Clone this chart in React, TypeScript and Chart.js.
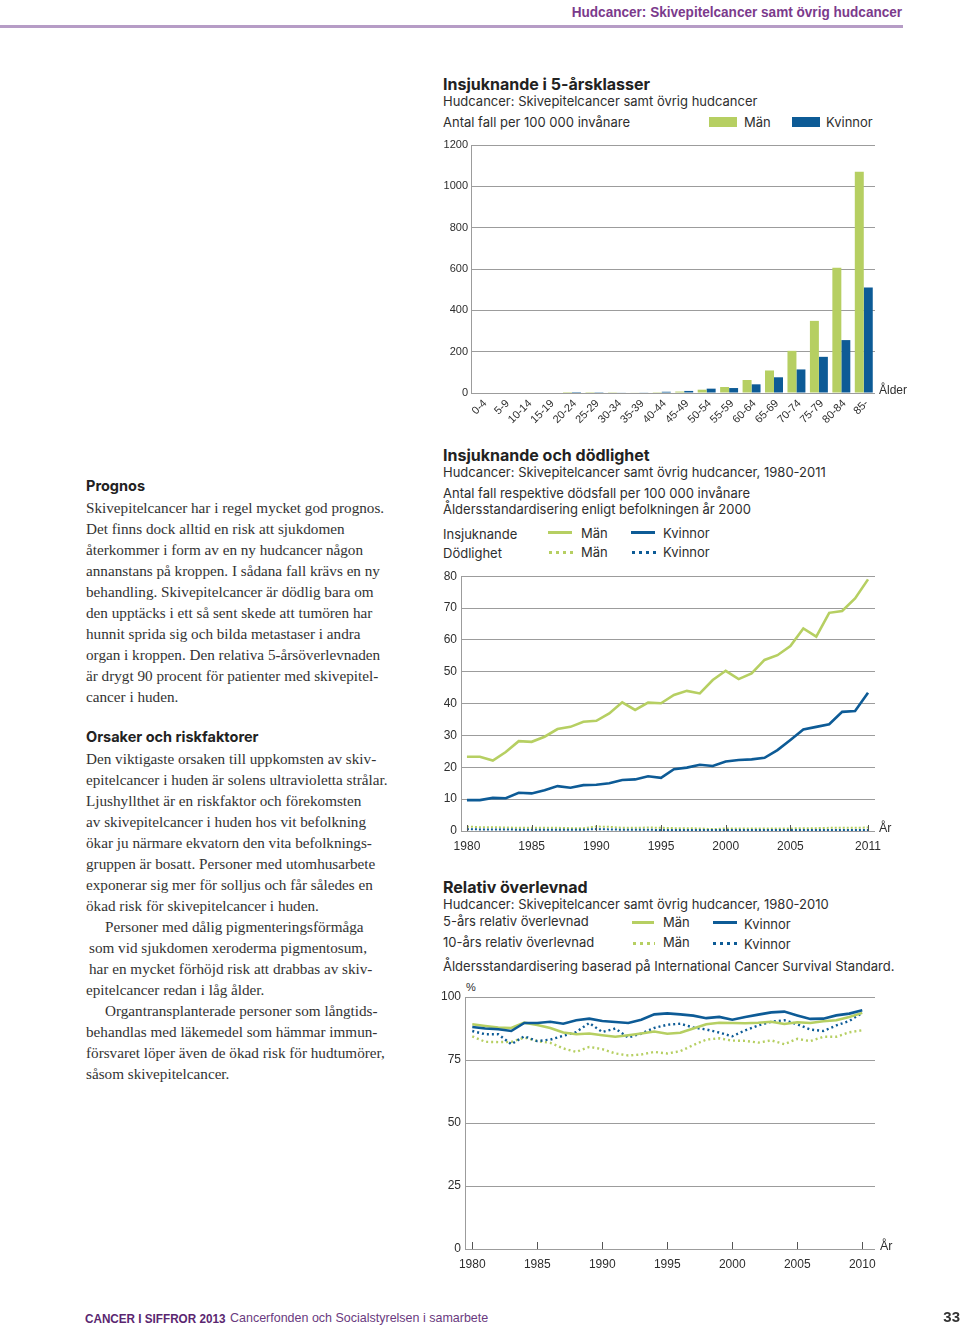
import React, { useEffect, useRef } from "react";
import { Chart, registerables } from "chart.js";

Chart.register(...registerables);

// ---------- DATA ----------
const ageGroups = ["0-4", "5-9", "10-14", "15-19", "20-24", "25-29", "30-34", "35-39", "40-44", "45-49", "50-54", "55-59", "60-64", "65-69", "70-74", "75-79", "80-84", "85-"];
const menByAge = [0, 0, 0, 0, 0.3, 0.6, 1, 2, 4, 7, 16, 29, 63, 109, 204, 349, 606, 1070];
const womenByAge = [0, 0, 0, 0, 0.3, 1, 2, 3, 6, 10, 21, 24, 42, 76, 114, 175, 256, 511];

const trendYears = [1980, 1981, 1982, 1983, 1984, 1985, 1986, 1987, 1988, 1989, 1990, 1991, 1992, 1993, 1994, 1995, 1996, 1997, 1998, 1999, 2000, 2001, 2002, 2003, 2004, 2005, 2006, 2007, 2008, 2009, 2010, 2011];
const incidenceMen = [23.3, 23.3, 22.1, 24.8, 28.2, 28.0, 29.6, 32.0, 32.7, 34.3, 34.6, 36.9, 40.4, 38.0, 40.3, 40.1, 42.7, 44.0, 43.2, 47.4, 50.3, 47.7, 49.5, 53.7, 55.2, 58.1, 63.6, 61.0, 68.5, 69.1, 73.0, 79.0];
const incidenceWomen = [9.7, 9.7, 10.4, 10.3, 12.0, 11.8, 12.8, 14.1, 13.6, 14.4, 14.5, 15.0, 16.0, 16.2, 17.2, 16.7, 19.4, 19.9, 20.8, 20.4, 21.8, 22.3, 22.5, 23.0, 25.4, 28.6, 31.9, 32.7, 33.5, 37.4, 37.7, 43.4];
const mortalityMen = [1.4, 1.2, 1.2, 1.1, 1.0, 1.0, 1.0, 1.0, 0.9, 0.9, 1.4, 1.3, 1.0, 1.0, 1.1, 1.0, 0.9, 0.9, 0.8, 0.6, 0.8, 0.8, 0.8, 0.8, 0.8, 0.8, 0.9, 0.9, 1.0, 1.0, 1.0, 1.1];
const mortalityWomen = [0.6, 0.5, 0.5, 0.5, 0.4, 0.4, 0.4, 0.4, 0.4, 0.4, 0.6, 0.5, 0.4, 0.4, 0.4, 0.3, 0.3, 0.3, 0.3, 0.3, 0.3, 0.3, 0.3, 0.3, 0.3, 0.3, 0.3, 0.3, 0.3, 0.3, 0.3, 0.3];
const trendTicks = [1980, 1985, 1990, 1995, 2000, 2005, 2011];

const survivalYears = [1980, 1981, 1982, 1983, 1984, 1985, 1986, 1987, 1988, 1989, 1990, 1991, 1992, 1993, 1994, 1995, 1996, 1997, 1998, 1999, 2000, 2001, 2002, 2003, 2004, 2005, 2006, 2007, 2008, 2009, 2010];
const surv5Women = [88.1, 87.5, 87.2, 86.5, 89.7, 89.7, 90.2, 89.4, 90.8, 91.4, 90.5, 90.1, 89.7, 91.0, 93.1, 93.5, 93.1, 92.6, 91.6, 92.1, 91.0, 92.1, 93.0, 93.9, 94.2, 92.7, 91.3, 91.4, 92.7, 93.4, 94.7];
const surv5Men = [89.2, 88.5, 87.9, 87.7, 89.8, 88.9, 87.7, 85.9, 85.2, 85.5, 84.8, 84.2, 84.8, 85.5, 86.3, 85.4, 85.8, 87.5, 89.2, 89.8, 89.7, 89.6, 89.8, 90.2, 89.3, 90.0, 89.7, 90.4, 90.8, 92.1, 93.7];
const surv10Women = [86.5, 85.2, 85.2, 81.3, 84.4, 82.5, 83.1, 84.6, 86.1, 89.7, 86.1, 87.5, 83.9, 85.5, 87.7, 89.0, 89.4, 87.9, 87.1, 85.9, 84.4, 86.8, 88.7, 90.2, 90.8, 89.2, 87.1, 86.5, 88.7, 90.5, 93.7];
const surv10Men = [84.4, 82.2, 82.1, 82.2, 83.9, 82.5, 81.8, 79.6, 78.2, 80.2, 79.3, 77.6, 76.8, 77.2, 78.2, 77.6, 78.5, 80.9, 83.1, 83.6, 82.7, 82.6, 81.9, 82.8, 81.3, 83.4, 82.5, 84.2, 84.2, 86.0, 86.8];
const survivalTicks = [1980, 1985, 1990, 1995, 2000, 2005, 2010];

// ---------- STYLE ----------
const GREEN = "#b6cf62";
const BLUE = "#0d5b96";
const GRID = "#9c9c9c";
const AXIS_FONT = "'Liberation Sans', Arial, sans-serif";
const SANS = "Inter, 'Noto Sans', sans-serif";
const SERIF = "'Liberation Serif', 'Times New Roman', serif";
const NARROW = "'Liberation Sans Narrow', 'Liberation Sans', sans-serif";
const PURPLE = "#7b3a8c";
const TEXT = "#2e2e2e";

const innerTicks = {
  id: "innerTicks",
  afterDraw(chart: any, _args: any, opts: any) {
    if (!opts || !opts.enabled) return;
    const xs = chart.scales.x;
    const ctx = chart.ctx;
    const bottom = chart.chartArea.bottom;
    ctx.save();
    ctx.strokeStyle = opts.color;
    ctx.lineWidth = 1;
    xs.ticks.forEach((t: any) => {
      const px = Math.round(xs.getPixelForValue(t.value)) + 0.5;
      ctx.beginPath();
      ctx.moveTo(px, bottom);
      ctx.lineTo(px, bottom - opts.length);
      ctx.stroke();
    });
    ctx.restore();
  },
};

function pts(xs: number[], ys: number[]) {
  return xs.map((x, i) => ({ x, y: ys[i] }));
}

function ChartBox({ left, top, width, height, make }: any) {
  const ref = useRef<HTMLCanvasElement>(null);
  useEffect(() => {
    const chart = new Chart(ref.current as HTMLCanvasElement, make());
    return () => chart.destroy();
  }, []);
  return (
    <div style={{ position: "absolute", left, top, width, height }}>
      <canvas ref={ref} width={width} height={height} style={{ width, height, display: "block" }} />
    </div>
  );
}

function T({ x, y, size = 13, weight = 400, family = SANS, color = TEXT, align = "left", sx = 1, children, style }: any) {
  const lh = Math.round(size * 1.3);
  const s: any = {
    position: "absolute",
    top: y - lh / 2,
    lineHeight: lh + "px",
    fontSize: size,
    fontWeight: weight,
    fontFamily: family,
    color,
    whiteSpace: "pre",
  };
  if (align === "right") s.right = 960 - x;
  else s.left = x;
  if (sx !== 1) {
    s.transform = `scaleX(${sx})`;
    s.transformOrigin = align === "right" ? "right center" : "left center";
  }
  return <div style={{ ...s, ...style }}>{children}</div>;
}

function Solid({ x, y, w, color }: any) {
  return <div style={{ position: "absolute", left: x, top: y - 1.5, width: w, height: 3, background: color }} />;
}
function Dotted({ x, y, w, color }: any) {
  return (
    <div
      style={{
        position: "absolute",
        left: x,
        top: y - 1.5,
        width: w,
        height: 3,
        background: `repeating-linear-gradient(to right, ${color} 0 3px, transparent 3px 7px)`,
      }}
    />
  );
}
function Box({ x, y, w, h, color }: any) {
  return <div style={{ position: "absolute", left: x, top: y, width: w, height: h, background: color }} />;
}

const tickFont = (size: number) => ({ family: AXIS_FONT, size });

function makeBarChart() {
  return {
    type: "bar",
    data: {
      labels: ageGroups,
      datasets: [
        { label: "Män", data: menByAge, backgroundColor: GREEN, categoryPercentage: 0.8, barPercentage: 1.0 },
        { label: "Kvinnor", data: womenByAge, backgroundColor: BLUE, categoryPercentage: 0.8, barPercentage: 1.0 },
      ],
    },
    options: {
      responsive: false,
      animation: false,
      layout: { padding: { top: 10, right: 40, left: 0, bottom: 0 } },
      plugins: { legend: { display: false }, tooltip: { enabled: false } },
      scales: {
        x: {
          grid: { display: false },
          border: { display: false },
          ticks: { minRotation: 45, maxRotation: 45, autoSkip: false, font: tickFont(11), color: TEXT, padding: -4, labelOffset: 3 },
          afterFit: (s: any) => { s.height = 42; },
        },
        y: {
          min: 0,
          max: 1200,
          grid: { color: GRID, drawTicks: false },
          border: { display: true, color: GRID },
          ticks: { stepSize: 200, font: tickFont(11), color: TEXT, padding: 3, callback: (v: any) => String(v) },
          afterFit: (s: any) => { s.width = 36; },
        },
      },
    },
  };
}

function makeTrendChart() {
  return {
    type: "line",
    data: {
      datasets: [
        { label: "Kvinnor dödlighet", data: pts(trendYears, mortalityWomen), borderColor: BLUE, borderWidth: 2, borderDash: [2, 2], pointRadius: 0, tension: 0 },
        { label: "Män dödlighet", data: pts(trendYears, mortalityMen), borderColor: GREEN, borderWidth: 2, borderDash: [2, 2], pointRadius: 0, tension: 0 },
        { label: "Kvinnor", data: pts(trendYears, incidenceWomen), borderColor: BLUE, borderWidth: 2.6, pointRadius: 0, tension: 0 },
        { label: "Män", data: pts(trendYears, incidenceMen), borderColor: GREEN, borderWidth: 2.6, pointRadius: 0, tension: 0 },
      ],
    },
    options: {
      responsive: false,
      animation: false,
      layout: { padding: { top: 10, right: 40, left: 0, bottom: 0 } },
      plugins: { legend: { display: false }, tooltip: { enabled: false }, innerTicks: { enabled: true, color: "#555", length: 6 } },
      scales: {
        x: {
          type: "linear",
          min: 1979.54,
          max: 2011.54,
          afterBuildTicks: (s: any) => { s.ticks = trendTicks.map((v) => ({ value: v })); },
          grid: { display: false },
          border: { display: false },
          ticks: { font: tickFont(12), color: TEXT, padding: 0, maxRotation: 0, autoSkip: false, callback: (v: any) => String(v) },
          afterFit: (s: any) => { s.height = 29; },
        },
        y: {
          min: 0,
          max: 80,
          grid: { color: GRID, drawTicks: false },
          border: { display: true, color: GRID },
          ticks: { stepSize: 10, font: tickFont(12), color: TEXT, padding: 4 },
          afterFit: (s: any) => { s.width = 26; },
        },
      },
    },
    plugins: [innerTicks],
  };
}

function makeSurvivalChart() {
  return {
    type: "line",
    data: {
      datasets: [
        { label: "5-års Kvinnor", data: pts(survivalYears, surv5Women), borderColor: BLUE, borderWidth: 2.6, pointRadius: 0, tension: 0 },
        { label: "5-års Män", data: pts(survivalYears, surv5Men), borderColor: GREEN, borderWidth: 2.6, pointRadius: 0, tension: 0 },
        { label: "10-års Kvinnor", data: pts(survivalYears, surv10Women), borderColor: BLUE, borderWidth: 2.4, borderDash: [2, 3], pointRadius: 0, tension: 0 },
        { label: "10-års Män", data: pts(survivalYears, surv10Men), borderColor: GREEN, borderWidth: 2.4, borderDash: [2, 3], pointRadius: 0, tension: 0 },
      ],
    },
    options: {
      responsive: false,
      animation: false,
      layout: { padding: { top: 12, right: 40, left: 0, bottom: 0 } },
      plugins: { legend: { display: false }, tooltip: { enabled: false }, innerTicks: { enabled: true, color: "#555", length: 7 } },
      scales: {
        x: {
          type: "linear",
          min: 1979.44,
          max: 2010.98,
          afterBuildTicks: (s: any) => { s.ticks = survivalTicks.map((v) => ({ value: v })); },
          grid: { display: false },
          border: { display: false },
          ticks: { font: tickFont(12), color: TEXT, padding: 0, maxRotation: 0, autoSkip: false, callback: (v: any) => String(v) },
          afterFit: (s: any) => { s.height = 31; },
        },
        y: {
          min: 0,
          max: 100,
          grid: { color: GRID, drawTicks: false },
          border: { display: true, color: GRID },
          ticks: { stepSize: 25, font: tickFont(12), color: TEXT, padding: 4 },
          afterFit: (s: any) => { s.width = 30; },
        },
      },
    },
    plugins: [innerTicks],
  };
}

const prognosLines = [
  "Skivepitelcancer har i regel mycket god prognos.",
  "Det finns dock alltid en risk att sjukdomen",
  "återkommer i form av en ny hudcancer någon",
  "annanstans på kroppen. I sådana fall krävs en ny",
  "behandling. Skivepitelcancer är dödlig bara om",
  "den upptäcks i ett så sent skede att tumören har",
  "hunnit sprida sig och bilda metastaser i andra",
  "organ i kroppen. Den relativa 5-årsöverlevnaden",
  "är drygt 90 procent för patienter med skivepitel-",
  "cancer i huden.",
];

const orsakerLines: [string, number][] = [
  ["Den viktigaste orsaken till uppkomsten av skiv-", 0],
  ["epitelcancer i huden är solens ultravioletta strålar.", 0],
  ["Ljushyllthet är en riskfaktor och förekomsten", 0],
  ["av skivepitelcancer i huden hos vit befolkning", 0],
  ["ökar ju närmare ekvatorn den vita befolknings-", 0],
  ["gruppen är bosatt. Personer med utomhusarbete", 0],
  ["exponerar sig mer för solljus och får således en", 0],
  ["ökad risk för skivepitelcancer i huden.", 0],
  ["Personer med dålig pigmenteringsförmåga", 19],
  ["som vid sjukdomen xeroderma pigmentosum,", 3],
  ["har en mycket förhöjd risk att drabbas av skiv-", 3],
  ["epitelcancer redan i låg ålder.", 0],
  ["Organtransplanterade personer som långtids-", 19],
  ["behandlas med läkemedel som hämmar immun-", 0],
  ["försvaret löper även de ökad risk för hudtumörer,", 0],
  ["såsom skivepitelcancer.", 0],
];

export default function App() {
  const serif = { family: SERIF, size: 15.2, color: "#333" };
  return (
    <div style={{ position: "absolute", left: 0, top: 0, width: 960, height: 1328, background: "#fff", overflow: "hidden" }}>
      {/* header */}
      <T x={902} y={12} size={15} weight={700} family={NARROW} color={PURPLE} align="right" sx={0.905}>Hudcancer: Skivepitelcancer samt övrig hudcancer</T>
      <div style={{ position: "absolute", left: 0, top: 25, width: 903, height: 3, background: "#b69cc6" }} />

      {/* chart 1 texts */}
      <T x={443} y={84} size={16} weight={700} color="#222">Insjuknande i 5-årsklasser</T>
      <T x={443} y={101} size={13}>Hudcancer: Skivepitelcancer samt övrig hudcancer</T>
      <T x={443} y={122} size={13}>Antal fall per 100 000 invånare</T>
      <Box x={709} y={117} w={28} h={10} color={GREEN} />
      <T x={744} y={122} size={13}>Män</T>
      <Box x={792} y={117} w={28} h={10} color={BLUE} />
      <T x={826} y={122} size={13}>Kvinnor</T>
      <ChartBox left={435} top={135} width={480} height={300} make={makeBarChart} />
      <T x={879} y={390} size={12} family={AXIS_FONT}>Ålder</T>

      {/* chart 2 texts */}
      <T x={443} y={455} size={16} weight={700} color="#222">Insjuknande och dödlighet</T>
      <T x={443} y={472} size={13}>Hudcancer: Skivepitelcancer samt övrig hudcancer, 1980-2011</T>
      <T x={443} y={493} size={13}>Antal fall respektive dödsfall per 100 000 invånare</T>
      <T x={443} y={509} size={13}>Åldersstandardisering enligt befolkningen år 2000</T>
      <T x={443} y={534} size={13}>Insjuknande</T>
      <Solid x={548} y={532} w={24} color={GREEN} />
      <T x={581} y={533} size={13}>Män</T>
      <Solid x={631} y={532} w={24} color={BLUE} />
      <T x={663} y={533} size={13}>Kvinnor</T>
      <T x={443} y={553} size={13}>Dödlighet</T>
      <Dotted x={549} y={552} w={24} color={GREEN} />
      <T x={581} y={552} size={13}>Män</T>
      <Dotted x={632} y={552} w={24} color={BLUE} />
      <T x={663} y={552} size={13}>Kvinnor</T>
      <ChartBox left={435} top={565} width={480} height={295} make={makeTrendChart} />
      <T x={879} y={828} size={12.5} family={AXIS_FONT}>År</T>

      {/* chart 3 texts */}
      <T x={443} y={887} size={16} weight={700} color="#222">Relativ överlevnad</T>
      <T x={443} y={904} size={13}>Hudcancer: Skivepitelcancer samt övrig hudcancer, 1980-2010</T>
      <T x={443} y={921} size={13}>5-års relativ överlevnad</T>
      <Solid x={632} y={922} w={22} color={GREEN} />
      <T x={663} y={922} size={13}>Män</T>
      <Solid x={713} y={922} w={24} color={BLUE} />
      <T x={744} y={924} size={13}>Kvinnor</T>
      <T x={443} y={942} size={13}>10-års relativ överlevnad</T>
      <Dotted x={633} y={943} w={22} color={GREEN} />
      <T x={663} y={942} size={13}>Män</T>
      <Dotted x={713} y={943} w={24} color={BLUE} />
      <T x={744} y={944} size={13}>Kvinnor</T>
      <T x={443} y={966} size={13}>Åldersstandardisering baserad på International Cancer Survival Standard.</T>
      <T x={466} y={987} size={11} family={AXIS_FONT}>%</T>
      <ChartBox left={435} top={985} width={480} height={295} make={makeSurvivalChart} />
      <T x={880} y={1246} size={12.5} family={AXIS_FONT}>År</T>

      {/* left column */}
      <T x={86} y={485} size={14.5} weight={700} color="#222">Prognos</T>
      {prognosLines.map((l, i) => (
        <T key={"p" + i} x={86} y={508 + i * 21} {...serif}>{l}</T>
      ))}
      <T x={86} y={736} size={14.5} weight={700} color="#222">Orsaker och riskfaktorer</T>
      {orsakerLines.map(([l, ind], i) => (
        <T key={"o" + i} x={86 + ind} y={759 + i * 21} {...serif}>{l}</T>
      ))}

      {/* footer */}
      <T x={85} y={1318} size={13} weight={700} family={NARROW} color="#5a2670" sx={0.9}>CANCER I SIFFROR 2013</T>
      <T x={230} y={1318} size={13.5} family={NARROW} color="#6a3a80" sx={0.925}>Cancerfonden och Socialstyrelsen i samarbete</T>
      <T x={960} y={1317} size={15} weight={700} family={NARROW} color="#333" align="right">33</T>
    </div>
  );
}
